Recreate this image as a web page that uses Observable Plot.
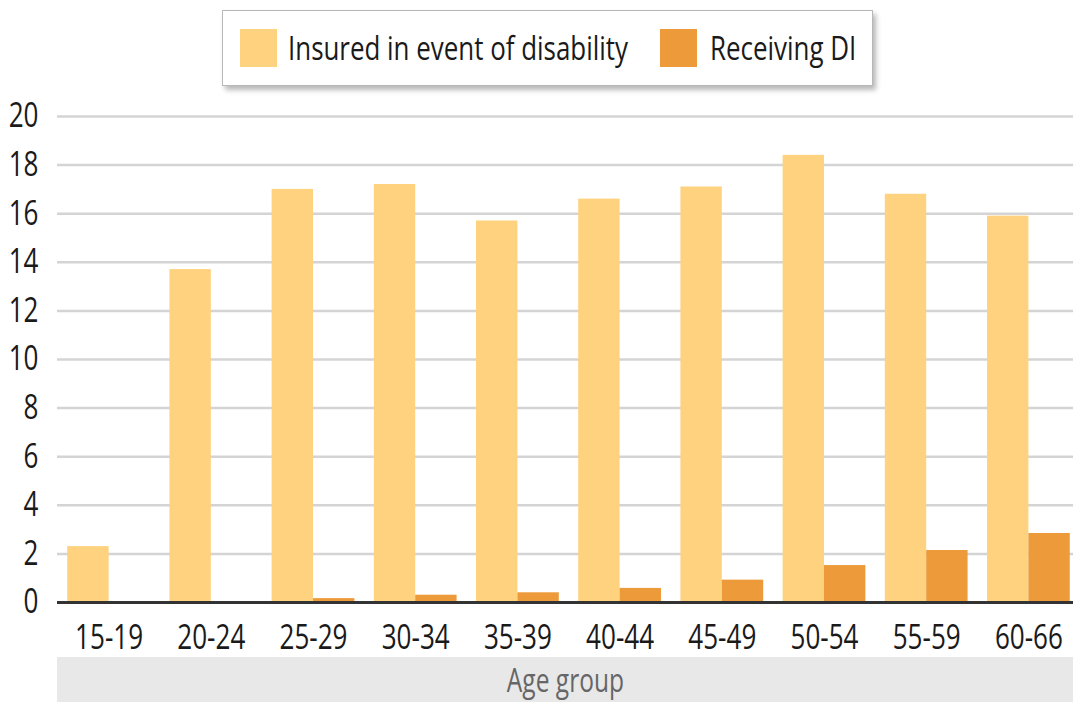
<!DOCTYPE html>
<html>
<head>
<meta charset="utf-8">
<script src="https://cdn.jsdelivr.net/npm/d3@7"></script>
<script src="https://cdn.jsdelivr.net/npm/@observablehq/plot@0.6"></script>
<style>
  html, body { margin: 0; padding: 0; background: #fff; overflow: hidden; }
  body { width: 1073px; height: 702px; position: relative;
         font-family: "Open Sans", "Noto Sans", sans-serif; }
  #legend { position: absolute; left: 222px; top: 10px; width: 649px; height: 74px; z-index: 2;
            border: 1px solid #b8b8b8; background: #fff;
            box-shadow: 3px 4px 5px rgba(0,0,0,0.28); }
  .sw { position: absolute; top: 18px; width: 37px; height: 38px; }
  .lt { position: absolute; top: 0; line-height: 74px; font-size: 33px; color: #1a1a1a; white-space: nowrap;
        transform-origin: 0 50%; }
  #chart { position: absolute; left: 0; top: 80px; width: 1080px; z-index: 1; }
  #chart svg { max-width: none; display: block; }
  #band { position: absolute; left: 57px; top: 657px; width: 1016px; height: 45px; background: #e8e8e8; z-index: 0;
          text-align: center; line-height: 45px; font-size: 32px; color: #666; }
  #band span { display: inline-block; transform-origin: 50% 50%; white-space: nowrap; }
</style>
</head>
<body>
<div id="legend"></div>
<div id="band"><span>Age group</span></div>
<div id="chart"></div>
<script>
const ages = ["15-19","20-24","25-29","30-34","35-39","40-44","45-49","50-54","55-59","60-66"];
const series = ["Insured in event of disability", "Receiving DI"];
const insured = [2.3, 13.7, 17.0, 17.2, 15.7, 16.6, 17.1, 18.4, 16.8, 15.9];
const receiving = [0, 0, 0.16, 0.3, 0.4, 0.58, 0.92, 1.52, 2.14, 2.84];
const yTicks = [0, 2, 4, 6, 8, 10, 12, 14, 16, 18, 20];
const colors = ["#fed27e", "#ed9b3a"];

// legend
const legend = document.getElementById("legend");
const legendPos = [[17, 65], [437, 487]];
const legendTexts = [];
series.forEach((s, i) => {
  const sw = document.createElement("div");
  sw.className = "sw";
  sw.style.left = legendPos[i][0] + "px";
  sw.style.background = colors[i];
  legend.appendChild(sw);
  const t = document.createElement("div");
  t.className = "lt";
  t.style.left = legendPos[i][1] + "px";
  t.textContent = s;
  legend.appendChild(t);
  legendTexts.push(t);
});
// condense legend text (reference uses a condensed face)
const lscale = 340 / legendTexts[0].getBoundingClientRect().width;
legendTexts.forEach(t => t.style.transform = `scaleX(${lscale})`);

const rows = [];
ages.forEach((a, i) => {
  rows.push({age: a, series: series[0], value: insured[i]});
  rows.push({age: a, series: series[1], value: receiving[i]});
});

const width = 1080, marginLeft = 57, marginRight = 0;
const pIn = 0.19, pOut = 0.1;
const step = (width - marginLeft - marginRight) / (ages.length - pIn + 2 * pOut);
const half = step * (1 - pIn) / 2;

const chart = Plot.plot({
  width, height: 622,
  marginTop: 36, marginBottom: 100, marginLeft, marginRight,
  style: {fontFamily: '"Open Sans", "Noto Sans", sans-serif', fontSize: "34px", color: "#1a1a1a", background: "transparent", maxWidth: "none"},
  x: {domain: ages, paddingInner: pIn, paddingOuter: pOut, round: false, label: null, tickSize: 0, tickPadding: 22},
  y: {domain: [0, 20], ticks: yTicks, label: null, tickSize: 0, tickPadding: 19},
  color: {domain: series, range: colors},
  marks: [
    Plot.ruleY(yTicks.filter(d => d > 0), {stroke: "#d4d4d4", strokeWidth: 2.5}),
    Plot.barY(rows.filter(d => d.series === series[0]), {x: "age", y: "value", fill: "series", insetRight: half}),
    Plot.barY(rows.filter(d => d.series === series[1]), {x: "age", y: "value", fill: "series", insetLeft: half}),
    Plot.ruleY([0], {stroke: "#333", strokeWidth: 3})
  ]
});
document.getElementById("chart").appendChild(chart);

// condense axis tick labels horizontally about their anchor point
const texts = Array.from(chart.querySelectorAll("text"));
const ref = texts.find(t => t.textContent === "15-19");
const tscale = ref ? 68 / ref.getComputedTextLength() : 0.66;
texts.forEach(t => {
  const x = +(t.getAttribute("x") || 0);
  const tr = t.getAttribute("transform") || "";
  t.setAttribute("transform", `${tr} translate(${x},0) scale(${tscale},1) translate(${-x},0)`);
});
document.querySelector("#band span").style.transform = `scaleX(${tscale})`;
</script>
</body>
</html>
